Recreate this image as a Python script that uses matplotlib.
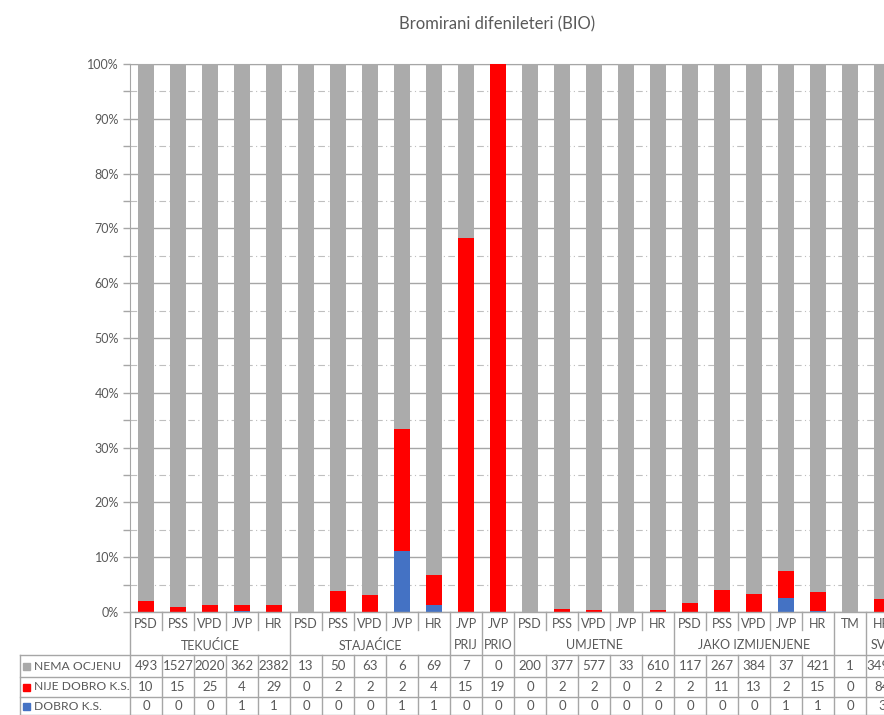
import matplotlib
matplotlib.use('Agg')
import matplotlib.pyplot as plt
import matplotlib.transforms as mtransforms
from matplotlib.lines import Line2D
import numpy as np

plt.rcParams['font.family'] = ['Lato', 'DejaVu Sans']

TITLE = 'Bromirani difenileteri (BIO)'

# one entry per column (row-1 label of the table)
categories = ['PSD', 'PSS', 'VPD', 'JVP', 'HR',
              'PSD', 'PSS', 'VPD', 'JVP', 'HR',
              'JVP', 'JVP',
              'PSD', 'PSS', 'VPD', 'JVP', 'HR',
              'PSD', 'PSS', 'VPD', 'JVP', 'HR',
              'TM', 'HR']
# groups: (label, number of columns)
groups = [('TEKUĆICE', 5), ('STAJAĆICE', 5), ('PRIJ', 1), ('PRIO', 1),
          ('UMJETNE', 5), ('JAKO IZMIJENJENE', 5), ('', 1), ('SVE', 1)]

nema = [493, 1527, 2020, 362, 2382, 13, 50, 63, 6, 69, 7, 0,
        200, 377, 577, 33, 610, 117, 267, 384, 37, 421, 1, 3490]
nije = [10, 15, 25, 4, 29, 0, 2, 2, 2, 4, 15, 19,
        0, 2, 2, 0, 2, 2, 11, 13, 2, 15, 0, 84]
dobro = [0, 0, 0, 1, 1, 0, 0, 0, 1, 1, 0, 0,
         0, 0, 0, 0, 0, 0, 0, 0, 1, 1, 0, 3]

series = [('NEMA OCJENU', nema, '#a9a9a9'),
          ('NIJE DOBRO K.S.', nije, '#ff0000'),
          ('DOBRO K.S.', dobro, '#4472c4')]

TXT = '#595959'
GRID = '#a6a6a6'
W, H = 884, 715

fig = plt.figure(figsize=(W / 100, H / 100), dpi=100)
# plot area runs past the right edge, like the cropped original
ax = fig.add_axes([130 / W, (H - 612) / H, 768 / W, 548 / H])

n = len(categories)
x = np.arange(n)
tot = np.array(nema) + np.array(nije) + np.array(dobro)
b = np.array(dobro) / tot
r = np.array(nije) / tot
g = np.array(nema) / tot
ax.bar(x, b, 0.5, color='#4472c4', zorder=3)
ax.bar(x, r, 0.5, bottom=b, color='#ff0000', zorder=3)
ax.bar(x, g, 0.5, bottom=b + r, color='#ababab', zorder=3)

ax.set_xlim(-0.5, n - 0.5)
ax.set_ylim(0, 1)
ax.set_yticks(np.arange(0, 1.01, 0.1))
ax.set_yticks(np.arange(0.05, 1, 0.1), minor=True)
ax.set_yticklabels([f'{int(round(v * 100))}%' for v in np.arange(0, 1.01, 0.1)],
                   fontsize=9, color=TXT)
ax.tick_params(axis='y', which='both', length=5, width=1, color=GRID, pad=3)
ax.set_xticks([])
ax.grid(axis='y', which='major', color=GRID, lw=1, zorder=0)
ax.grid(axis='y', which='minor', color='#bfbfbf', lw=0.8, ls=(0, (6, 3, 1, 3)), zorder=0)
for s in ['right', 'bottom']:
    ax.spines[s].set_visible(False)
ax.spines['top'].set_color(GRID)
ax.spines['left'].set_color(GRID)
ax.axhline(0, color=GRID, lw=1, zorder=4, clip_on=False)

fig.text(497 / W, 1 - 24 / H, TITLE, ha='center', va='center', fontsize=12, color=TXT)

# ---- data table under the chart ----
blend = mtransforms.blended_transform_factory(ax.transData, fig.transFigure)


def fy(py):
    return 1 - py / H


def vline(xd, y0, y1):
    fig.add_artist(Line2D([xd, xd], [fy(y0), fy(y1)], transform=blend, color=GRID, lw=1))


def hline(px0, y):
    fig.add_artist(Line2D([px0 / W, 1], [fy(y), fy(y)], transform=fig.transFigure,
                          color=GRID, lw=1))


ROW1, ROW2, TOPDATA = 624, 645, 655
rows_y = [666, 687, 706]
row_lines = [655, 677, 697, 715]

# group boundaries
edges = [0]
for _, k in groups:
    edges.append(edges[-1] + k)
for e in edges:
    vline(e - 0.5, 612, H)
for i in range(n):
    if i not in edges:
        vline(i - 0.5, 612, 630)
        vline(i - 0.5, TOPDATA, H)

for i, c in enumerate(categories):
    ax.text(i, fy(ROW1), c, transform=blend, ha='center', va='center', fontsize=9, color=TXT)
for (lab, k), e in zip(groups, edges[:-1]):
    ax.text(e + (k - 1) / 2, fy(ROW2), lab, transform=blend, ha='center', va='center',
            fontsize=9, color=TXT)

for yy in row_lines:
    hline(20, yy)
fig.add_artist(Line2D([20 / W, 20 / W], [fy(TOPDATA), fy(H)], transform=fig.transFigure,
                      color=GRID, lw=1))

for (name, vals, col), yy in zip(series, rows_y):
    fig.add_artist(plt.Rectangle((23 / W, fy(yy + 3.5)), 7 / W, 7 / H,
                                 transform=fig.transFigure, color=col))
    fig.text(34 / W, fy(yy), name, ha='left', va='center', fontsize=8.7, color=TXT)
    for i, v in enumerate(vals):
        ax.text(i, fy(yy), str(v), transform=blend, ha='center', va='center',
                fontsize=9.5, color=TXT)

fig.savefig('out.png', dpi=100)
